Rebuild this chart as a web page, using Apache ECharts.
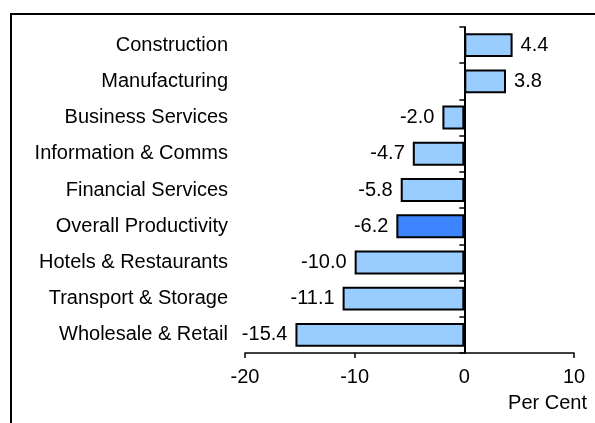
<!DOCTYPE html>
<html lang="en">
<head>
  <meta charset="UTF-8">
  <title>Productivity by sector</title>
  <script src="https://cdn.jsdelivr.net/npm/echarts@6/dist/echarts.min.js"></script>
  <style>
    * { margin: 0; padding: 0; }
    body { background: #fff; }
    #main { width: 595px; height: 423px; }
  </style>
</head>
<body>
  <div id="main"></div>
  <script>
    // sectors, top to bottom as drawn
    var sectors = ['Construction', 'Manufacturing', 'Business Services', 'Information & Comms',
      'Financial Services', 'Overall Productivity', 'Hotels & Restaurants',
      'Transport & Storage', 'Wholesale & Retail'];
    var changes = [4.4, 3.8, -2.0, -4.7, -5.8, -6.2, -10.0, -11.1, -15.4];
    var highlight = 'Overall Productivity';
    var xTicks = [-20, -10, 0, 10];
    var xTickMarks = [-20, -10, 10]; // the zero line stands in for the tick at 0

    var font = 'Liberation Sans, Arial, sans-serif';
    var fs = 20;

    var barData = changes.map(function (v, i) {
      return {
        value: v,
        itemStyle: { color: sectors[i] === highlight ? '#3f84ff' : '#99ccff' },
        label: { position: v >= 0 ? 'right' : 'left' }
      };
    });

    var myChart = echarts.init(document.getElementById('main'));
    var option = {
      animation: false,
      grid: { left: 245, right: 21, top: 27, bottom: 70, containLabel: false },
      xAxis: {
        type: 'value',
        min: xTicks[0],
        max: xTicks[xTicks.length - 1],
        interval: 10,
        splitLine: { show: false },
        axisLine: { show: true, onZero: false, lineStyle: { color: '#000', width: 1.5 } },
        axisTick: { show: true, length: 5, customValues: xTickMarks, lineStyle: { color: '#000', width: 1.5 } },
        axisLabel: { color: '#000', fontSize: fs, fontFamily: font, margin: 14 }
      },
      yAxis: [
        {
          // labels at the left of the plot
          type: 'category',
          data: sectors,
          inverse: true,
          axisLine: { show: false, onZero: false },
          axisTick: { show: false },
          axisLabel: { color: '#000', fontSize: fs, fontFamily: font, margin: 17 }
        },
        {
          // the line through zero with its ticks
          type: 'category',
          data: sectors,
          inverse: true,
          position: 'left',
          axisLine: { show: true, onZero: true, lineStyle: { color: '#000', width: 2 } },
          axisTick: { show: true, length: 5, lineStyle: { color: '#000', width: 1.5 } },
          axisLabel: { show: false }
        }
      ],
      series: [{
        type: 'bar',
        yAxisIndex: 0,
        data: barData,
        barCategoryGap: '34%',
        itemStyle: { borderColor: '#000', borderWidth: 2 },
        label: {
          show: true,
          color: '#000',
          fontSize: fs,
          fontFamily: font,
          distance: 8,
          formatter: function (p) { return p.value.toFixed(1); }
        }
      }],
      graphic: [
        {
          type: 'rect',
          shape: { x: 11, y: 14, width: 640, height: 460 },
          style: { fill: 'none', stroke: '#000', lineWidth: 2 },
          silent: true
        },
        {
          type: 'text',
          right: 8,
          top: 393,
          style: { text: 'Per Cent', fill: '#000', fontSize: fs, fontFamily: font }
        }
      ]
    };
    myChart.setOption(option);
  </script>
</body>
</html>
